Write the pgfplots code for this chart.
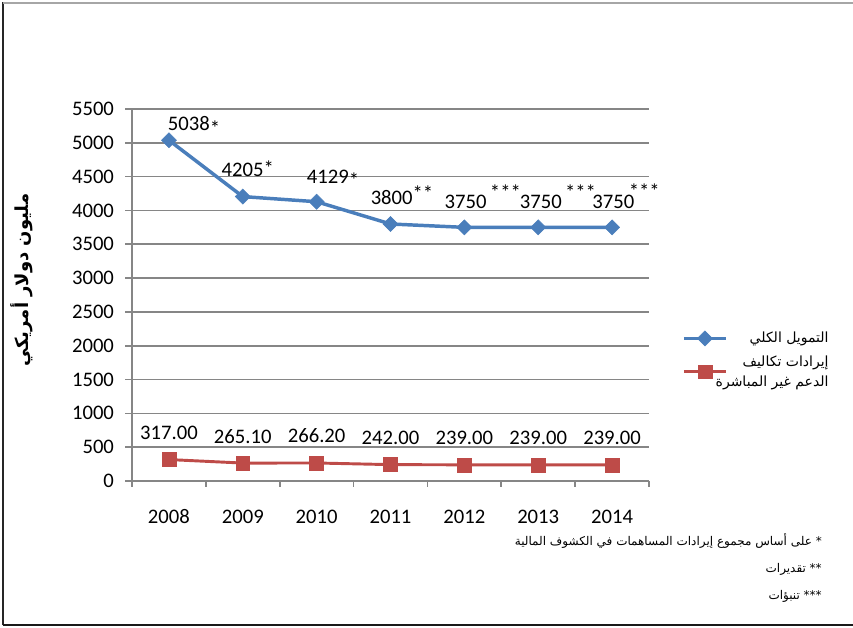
\documentclass[border=0pt]{standalone}
\usepackage{fontspec}
\setmainfont{Carlito}
\newfontfamily\arabicfont[Script=Arabic]{DejaVu Sans}
\TeXXeTstate=1
\usepackage{pgfplots}
\usepackage{pgfplotstable}
\pgfplotsset{compat=1.18}

\definecolor{blueS}{RGB}{74,126,187}
\definecolor{redS}{RGB}{190,75,72}
\definecolor{gridgray}{RGB}{134,134,134}

% total funding, label text, label shift (pt) from the point
\pgfplotstableread{
x y lab dx dy
0 5038 {5038\raisebox{-3.5pt}{*}} -1 7
1 4205 {4205\raisebox{1pt}{*}} -16 15
2 4129 {4129\raisebox{-2.5pt}{*}} -7.5 13.5
3 3800 {3800\raisebox{3pt}{**}} -15 14.5
4 3750 {3750\,\raisebox{7pt}{***}} -15 14
5 3750 {3750\,\raisebox{7pt}{***}} -14 14
6 3750 {3750\hspace{-4pt}\raisebox{8pt}{***}} -15 14
}\total

\pgfplotstableread{
x y
0 317
1 265.1
2 266.2
3 242
4 239
5 239
6 239
}\support

\begin{document}
\begin{tikzpicture}[x=1pt,y=1pt]
\path[use as bounding box] (0,0) rectangle (639.75,471);
\draw[line width=1.5pt, black!85] (2.5,2) -- (2.5,469.5);
\draw[line width=1pt, gray!70] (2.5,468.75) -- (639.75,468.75);
\draw[line width=2.2pt, black!90] (2.5,2.25) -- (639.75,2.25);

\begin{axis}[
  at={(99pt,110.25pt)}, anchor=south west,
  scale only axis, width=387.75pt, height=279pt,
  xmin=-0.5, xmax=6.5, ymin=0, ymax=5500,
  axis x line*=bottom, axis y line*=left,
  axis line style={draw=gridgray, line width=1.2pt},
  ymajorgrids, grid style={draw=gridgray, line width=1.2pt},
  ytick={0,500,...,5500},
  scaled y ticks=false,
  xtick={0,...,6},
  xticklabels={2008,2009,2010,2011,2012,2013,2014},
  minor xtick={-0.5,0.5,...,6.5},
  every major x tick/.append style={draw=none},
  tick align=outside,
  major tick length=5pt, minor tick length=4.5pt,
  tick style={draw=gridgray, line width=1.2pt},
  /pgf/number format/assume math mode=true,
  /pgf/number format/1000 sep={},
  tick label style={font=\fontsize{15.5}{18}\selectfont},
  yticklabel style={xshift=-5pt},
  xticklabel style={yshift=-13pt},
  ylabel={\arabicfont\bfseries\beginR مليون دولار أمريكي\endR},
  ylabel style={at={(axis description cs:-0.213,0.54)}, anchor=center,
    font=\fontsize{13.5}{15}\selectfont},
  clip=false,
  legend style={draw=none, fill=none, at={(1.056,0.325)}, anchor=west,
    font=\arabicfont\fontsize{10.5}{15}\selectfont,
    cells={align=right}, row sep=4pt, column sep=-11pt},
  legend cell align=right,
  legend image code/.code={
    \draw[mark repeat=2,mark phase=2] plot coordinates {(0pt,0pt) (15.75pt,0pt) (31.5pt,0pt)};},
]
\addplot[blueS, line width=2.6pt, mark=square*, mark size=4pt,
  mark options={rotate=45, line width=0.4pt},
  nodes near coords, point meta=explicit symbolic,
  visualization depends on={\thisrow{dx}\as\dx},
  visualization depends on={\thisrow{dy}\as\dy},
  every node near coord/.append style={anchor=base west, inner sep=0pt,
    xshift=\dx pt, yshift=\dy pt, text=black,
    font=\fontsize{15.5}{18}\selectfont}]
  table[x=x, y=y, meta=lab]{\total};
\addlegendentry{\beginR التمويل الكلي\endR}

\addplot[redS, line width=2.2pt, mark=square*, mark size=5.2pt,
  mark options={line width=0.4pt},
  point meta=y,
  nodes near coords={\pgfmathprintnumber[fixed,fixed zerofill,precision=2]{\pgfplotspointmeta}},
  every node near coord/.append style={anchor=base, inner sep=0pt,
    yshift=15pt, text=black, font=\fontsize{15.5}{18}\selectfont}]
  table[x=x, y=y]{\support};
\addlegendentry{\beginR إيرادات تكاليف\endR\\\beginR الدعم غير المباشرة\endR}
\end{axis}

\begin{scope}[every node/.style={anchor=east, inner sep=0pt,
    font=\arabicfont\fontsize{9}{11}\selectfont}]
\node at (616.5,65.25) {\beginR * على أساس مجموع إيرادات المساهمات في الكشوف المالية\endR};
\node at (616.5,44.25) {\beginR ** تقديرات\endR};
\node at (616.5,24) {\beginR *** تنبؤات\endR};
\end{scope}
\end{tikzpicture}
\end{document}
